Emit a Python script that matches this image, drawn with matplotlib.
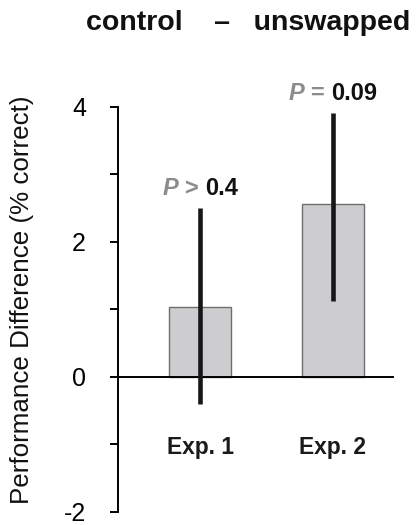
import matplotlib
matplotlib.use("Agg")
import matplotlib.pyplot as plt
from matplotlib.offsetbox import TextArea, HPacker, AnnotationBbox

plt.rcParams['font.family'] = ['Liberation Sans', 'DejaVu Sans']

# experiment means and 95% interval bounds (% correct difference)
experiments = ["Exp. 1", "Exp. 2"]
means = [1.04, 2.56]
ci_low = [-0.40, 1.12]
ci_high = [2.50, 3.91]
p_relation = ["P >", "P ="]
p_values = ["0.4", "0.09"]

fig = plt.figure(figsize=(4.17, 5.25), dpi=100)
ax = fig.add_axes([0.283, 0.0248, 0.659, 0.7716])

x = [1, 2]
ax.bar(x, means, width=0.46, color='#cdcdcf', edgecolor='#6e6e6e', linewidth=1.0, zorder=2)
yerr = [[m - lo for m, lo in zip(means, ci_low)], [hi - m for m, hi in zip(means, ci_high)]]
ax.errorbar(x, means, yerr=yerr, fmt='none', ecolor='#161616', elinewidth=3.3, capsize=0, zorder=4)

ax.set_xlim(0.383, 2.45)
ax.set_ylim(-2, 4)

for side in ('top', 'right'):
    ax.spines[side].set_visible(False)
ax.spines['left'].set_linewidth(1.4)
ax.spines['bottom'].set_position(('data', 0))
ax.spines['bottom'].set_linewidth(1.4)
ax.spines['bottom'].set_zorder(3)

ax.set_xticks([])
ax.set_yticks([-2, 0, 2, 4])
ax.set_yticklabels(['-2', '0', '2', '4'])
ax.set_yticks([-1, 1, 3], minor=True)
ax.tick_params(axis='y', which='both', direction='out', length=6, width=1.4, pad=17, labelsize=18)

# category names below the zero line
for xi, name in zip(x, experiments):
    ax.text(xi, -1.05, name, ha='center', va='center', fontsize=16.4, fontweight='bold', color='#1a1a1a')

# significance labels above each error bar
for xi, hi, rel, pv in zip(x, ci_high, p_relation, p_values):
    gray = TextArea(rel, textprops=dict(color='#8c8c8c', fontsize=17, fontweight='bold', fontstyle='italic'))
    black = TextArea(pv, textprops=dict(color='#111111', fontsize=17, fontweight='bold'))
    box = HPacker(children=[gray, black], align='baseline', pad=0, sep=5)
    ab = AnnotationBbox(box, (xi, hi), xybox=(0, 14), xycoords='data', boxcoords='offset points',
                        frameon=False, box_alignment=(0.5, 0.5))
    ax.add_artist(ab)

fig.text(0.594, 0.956, "control    \u2013   unswapped", ha='center', va='center',
         fontsize=20.5, fontweight='bold', color='#111111')
fig.text(0.053, 0.429, "Performance Difference (% correct)", ha='center', va='center',
         rotation=90, fontsize=18.7, color='#111111')

fig.savefig("out.png", dpi=100)
